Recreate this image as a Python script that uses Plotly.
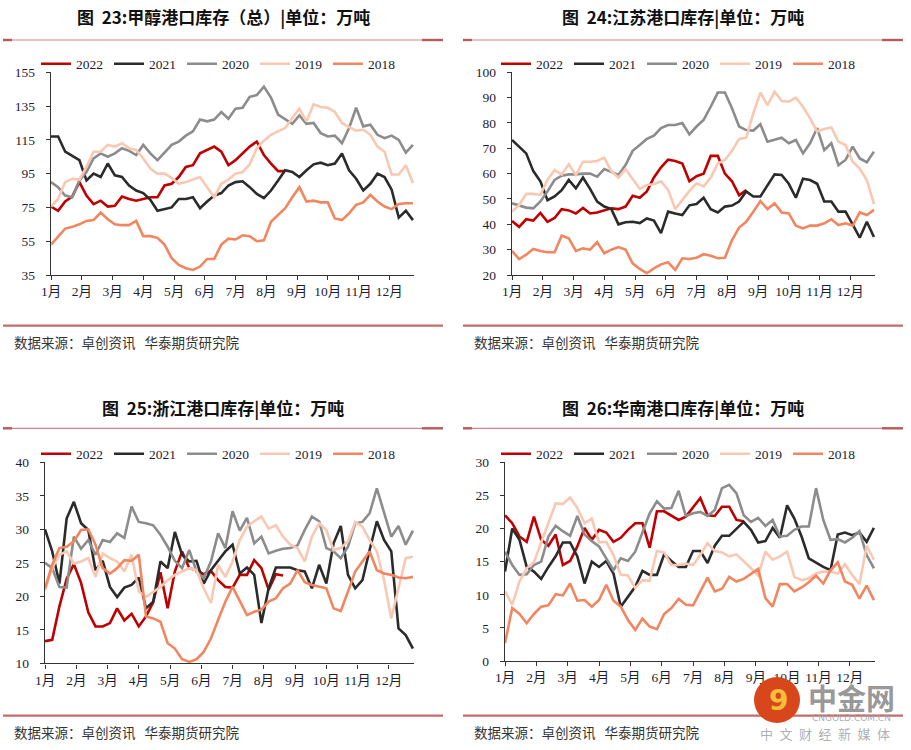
#!/usr/bin/env python3
# -*- coding: utf-8 -*-
"""
甲醇港口库存四宫格（总/江苏/浙江/华南），周度数据，2018-2022 五年对比
"""

import plotly.graph_objects as go

W, H = 911, 750

# ---------------- 数据（周度，单位：万吨） ----------------
YEARS = ['2022', '2021', '2020', '2019', '2018']
MONTHS = [f'{m}月' for m in range(1, 13)]

# 图23 总库存
total_2022 = [75.5, 73, 78.5, 81.5, 90, 82, 77, 79, 75.5, 76, 81.5, 80, 79, 80, 81, 81, 88, 89, 93, 99,
              100, 107, 109, 111, 108, 100, 103, 107, 111, 114, 106, 101, 96.5, 96.5]
total_2021 = [117, 117, 108, 105.5, 103, 91, 95, 93, 101, 94, 93, 88, 85, 83.5, 79.5, 73, 74, 75, 80, 80,
              81, 74.5, 78.5, 82, 83.5, 88, 90, 90.5, 87, 83, 80.5, 85, 91, 97, 96, 93, 97, 100.5, 101.5, 100,
              101, 107, 97, 92, 85, 89, 95, 93, 85.5, 69, 73, 67.5]
total_2020 = [90, 87, 82, 81, 91, 96, 104, 107, 105, 107, 110, 108.5, 106, 112, 107, 103, 107.5, 112, 114, 117.5,
              120, 127, 126, 127, 131.5, 127.5, 133.5, 134, 140.5, 141.5, 146.5, 140, 130, 127, 124.5, 129.5, 124.5,
              125, 119, 117, 117.5, 113, 122, 134, 123, 124, 118, 116, 117.5, 115, 107.5, 112]
total_2019 = [75.5, 80, 90, 92, 91.5, 99, 108, 108, 112, 111, 113, 110, 109, 104, 98, 95, 95, 92.5, 89, 90,
              91.5, 93, 87, 81, 89, 91.5, 95, 96, 100.5, 110, 114.5, 118, 120, 122, 128, 133.5, 126, 136, 134.5,
              134, 131.5, 125, 122.5, 120.5, 121, 118, 111, 108, 94.5, 94.5, 100, 89.5]
total_2018 = [53, 57.5, 62.5, 63.5, 65, 67, 67.5, 72, 68, 65, 64.5, 64.5, 67, 58, 58, 57, 53, 45, 41, 39,
              38, 40, 44.5, 44.5, 53, 56.5, 56, 58.5, 58, 55, 55.5, 66.5, 70.5, 74.5, 81, 87, 78.5, 79, 78, 78,
              68.5, 67.5, 71.5, 76.5, 78, 82.5, 78.5, 75.5, 74, 77, 77.5, 77.5]

# 图24 江苏
js_2022 = [41.3, 39, 42, 41.5, 44.5, 41, 42.5, 46, 45.5, 44.3, 46.5, 44.3, 44.7, 45.5, 46.3, 46, 47, 51.3, 50.5, 53,
           58.5, 62.5, 65.5, 65, 64, 57, 59, 60, 67, 67, 60, 57, 51.5, 53.5]
js_2021 = [73.3, 70.5, 68, 61, 57, 49.5, 51, 53.5, 57.5, 54.2, 58.5, 54, 49, 47, 46, 40, 40.8, 41, 40.5, 42.3,
           41.5, 36.5, 45, 44.3, 43.7, 47.5, 48, 50.5, 46, 44.7, 47, 47.4, 49, 53, 51, 51, 55.5, 59.7, 59.5, 56,
           50.5, 58, 57.5, 56, 49, 49, 45, 45, 40, 34.7, 41, 35]
js_2020 = [48.3, 47.6, 46.6, 46.3, 49, 53, 57.5, 59.2, 59.7, 59.7, 60, 60, 58.8, 61.8, 60.8, 59.5, 63.4, 69, 71.3, 73.7,
           75, 78, 79.2, 79.2, 80, 75.5, 78.6, 81.2, 86.4, 92, 92, 85.8, 78.6, 77.2, 77, 79.5, 72.6, 73.3, 74.2, 72,
           73.3, 68, 72, 78, 69.3, 72, 63.4, 65.4, 70.7, 66, 64.5, 68.7]
js_2019 = [45, 47.6, 52, 52, 51.6, 57.5, 61.4, 59.7, 63.7, 59.5, 64.7, 64.7, 65, 66.3, 61, 58.4, 61.8, 58, 54, 55.5,
           55.8, 57, 53.6, 46, 49.6, 53.2, 56.2, 55, 58.4, 64, 65.4, 69, 73.7, 74.2, 83.8, 92, 87, 92.4, 88.7, 88.4,
           90, 86.4, 81.8, 76.6, 77.6, 78.2, 72.6, 71.3, 64.7, 62, 57.5, 48]
js_2018 = [29.5, 26.3, 28, 30.3, 29.5, 29, 29, 35.5, 34.5, 29.5, 30.5, 30, 33, 28.6, 30, 31, 30, 24.6, 22.4, 20.7,
           22.6, 24.2, 25, 22, 26.6, 26.3, 26.8, 28.2, 27.6, 26.6, 26.8, 33.8, 38.7, 41, 45, 49.2, 46, 48.3, 44.7, 44.3,
           39.5, 38.4, 39.5, 39.5, 40.4, 42, 39.7, 40.4, 39.5, 44.7, 43.7, 45.7]

# 图25 浙江
zj_2022 = [13.3, 13.5, 18.5, 22.6, 24.8, 22, 17.6, 15.5, 15.5, 16, 18.2, 16.4, 17.4, 15.5, 17, 19.1, 23.6, 18.2, 23.7, 26.7,
           24.2, 23.9, 23.3, 23.8, 22.4, 21.4, 21.3, 23.2, 23.2, 25.4, 24.2, 21, 23.3, 23.1]
zj_2021 = [30, 26.7, 21.9, 31.6, 34.1, 30.9, 29.9, 23.9, 25.3, 21.4, 19.9, 21.3, 21.7, 22.8, 18.2, 19.2, 25.2, 24.2, 29.6, 26.2,
           25.2, 25.3, 21.9, 23.9, 25.3, 26.7, 27.7, 23.4, 24.3, 23.2, 16, 21.2, 24.3, 24.3, 24.3, 23.9, 23.7, 21.2, 24.7, 21.9,
           27.9, 30.5, 23.2, 21.2, 22.4, 26.9, 31.2, 28.4, 26.7, 15.2, 14.2, 12.2]
zj_2020 = [25, 24.2, 21.4, 21.3, 28.9, 27.1, 28.4, 26.2, 28.4, 28.1, 29.4, 28.7, 33.4, 31.1, 30.9, 30.6, 29.2, 27.4, 25.3, 24.2,
           26.9, 23.7, 22.7, 25.2, 29.4, 27.2, 32.7, 29.8, 31.7, 27.9, 28.9, 26.4, 26.8, 27.1, 27.2, 27.6, 29.9, 31.9, 31.2, 27.2,
           26.7, 25.7, 27.4, 30.9, 31.1, 32.4, 36.1, 32.6, 28.9, 30.5, 27.7, 29.8]
zj_2019 = [20.9, 24.2, 26.2, 26.7, 24.9, 25.2, 25.7, 22.9, 26.4, 25.7, 25.2, 23.7, 26.2, 20.7, 19.9, 20.7, 21.4, 22.4, 23.2, 23.7,
           24.2, 23.9, 21.2, 19, 24.7, 22.9, 25.2, 28.4, 30.4, 31.2, 31.9, 30.1, 30.6, 28.9, 27.7, 27.2, 25.2, 28.9, 30.9, 29.9,
           26.9, 27.2, 28.2, 31.1, 30.4, 28.4, 26.7, 22.4, 16.7, 21.2, 25.7, 25.9]
zj_2018 = [21.2, 24.7, 27.2, 27.4, 28.2, 29.9, 30, 27.7, 24.2, 23.4, 24.2, 25.4, 25.3, 26.2, 17, 16.7, 16.2, 13, 12.2, 10.6,
           10.2, 10.6, 11.7, 13.7, 16.5, 19.2, 21.4, 19.2, 17.2, 17.7, 18, 19.2, 19.7, 21.2, 21.9, 23.9, 22.1, 21.7, 21.4, 21.2,
           18.2, 17.8, 20.7, 23.7, 25.2, 26.7, 23.9, 23.4, 23.2, 22.8, 22.7, 22.9]

# 图26 华南
hn_2022 = [22, 20.8, 18.8, 18, 21.8, 18.3, 17.4, 19.1, 14.5, 15.1, 17.3, 20.1, 18.3, 19.8, 19.4, 18, 18.6, 19.8, 20.8, 20.8,
           17.1, 22.6, 22.6, 22, 21.3, 21.8, 23.2, 24.6, 22, 21.9, 23.3, 23.3, 21.3, 21.1]
hn_2021 = [13.5, 20, 18.3, 14.2, 13.5, 12.4, 14.2, 15.8, 17.9, 17.9, 15.8, 11.7, 15, 14.2, 15.1, 13.2, 8.2, 9.7, 11.2, 13.6,
           13, 13, 16.1, 15.1, 14.2, 14.2, 16.6, 16.6, 14.8, 17.4, 18.9, 18.9, 19.9, 21, 19.8, 17.9, 18.1, 20.1, 18.6, 23.5,
           21.5, 18.8, 15.5, 14.8, 14.2, 13.7, 19.1, 19.4, 19, 19.4, 18, 20.1]
hn_2020 = [16.5, 14.5, 13, 13.1, 14.5, 15, 18.8, 20.4, 19.6, 18.9, 21.9, 19.1, 18.1, 17.3, 15.5, 13.7, 15.5, 15.1, 16.5, 19.4,
           22.3, 24.1, 23, 23.1, 25.7, 21.9, 22.3, 22.5, 21.9, 22.8, 26.1, 26.6, 25.3, 22, 21, 21.6, 20.4, 21.3, 18.8, 18.9,
           19.8, 20.3, 20.3, 26.1, 21.3, 18.3, 18.4, 17.9, 18.6, 19.6, 16, 14]
hn_2019 = [10.5, 8.5, 12, 14, 14.9, 17.9, 21, 23.8, 23.7, 24.7, 23.1, 20.8, 21.5, 17.9, 18, 16, 13, 12.9, 11, 12.2,
           12.1, 16.6, 16.4, 14.5, 14.5, 14.7, 14.5, 16, 17.8, 16.6, 16.4, 15.8, 16.1, 15.1, 14, 12.9, 16.5, 15.3, 15.8, 16.5,
           12.7, 12.2, 12.5, 13.2, 13.5, 13.5, 13.2, 14.6, 13, 11.6, 17.4, 15.3]
hn_2018 = [2.7, 8, 7.1, 5.7, 7.1, 8.2, 8.4, 10.1, 9.9, 11.7, 9.1, 9.2, 8.2, 9.2, 11.5, 9.1, 8.2, 6.2, 4.7, 6.4,
           5.2, 4.8, 7.1, 8, 9.4, 8.5, 8.4, 10.4, 12.6, 10.5, 10.9, 12.7, 12, 12.4, 13.2, 13.9, 9.5, 8.2, 11.6, 11.6,
           10.5, 11.1, 11.9, 12.9, 11.7, 13.7, 14.9, 12, 11.5, 9.4, 11.4, 9.2]

# 各年份线条颜色
COLORS = {'2022': '#C00000', '2021': '#2B2B2B', '2020': '#8C8C8C', '2019': '#F9C8B2', '2018': '#F28660'}

SERIF = 'Liberation Serif, Noto Sans CJK SC, serif'
CJK = 'Noto Sans CJK SC, sans-serif'
SOURCE = '数据来源：卓创资讯\u00a0\u00a0\u00a0华泰期货研究院'


def px(x):
    """像素 -> paper x"""
    return x / W


def py(y):
    """像素 -> paper y（自上而下）"""
    return 1 - y / H


# 每个子图：标题、数据、y轴范围、绘图区像素框、面板左边界
panels = [
    dict(title='图\u00a0\u00a023:甲醇港口库存（总）|单位：万吨',
         series=[total_2022, total_2021, total_2020, total_2019, total_2018],
         yrange=[35, 155], dtick=20, box=(51, 414, 72.3, 275), left=3, top=0),
    dict(title='图\u00a0\u00a024:江苏港口库存|单位：万吨',
         series=[js_2022, js_2021, js_2020, js_2019, js_2018],
         yrange=[20, 100], dtick=10, box=(512, 875, 72.3, 275), left=463, top=0),
    dict(title='图\u00a0\u00a025:浙江港口库存|单位：万吨',
         series=[zj_2022, zj_2021, zj_2020, zj_2019, zj_2018],
         yrange=[10, 40], dtick=5, box=(45, 414, 462.3, 663.3), left=3, top=390),
    dict(title='图\u00a0\u00a026:华南港口库存|单位：万吨',
         series=[hn_2022, hn_2021, hn_2020, hn_2019, hn_2018],
         yrange=[0, 30], dtick=5, box=(505, 875, 462.3, 661), left=463, top=390),
]

fig = go.Figure()
layout = {}
shapes = []
annotations = []
tickvals = [m * 52 / 12 for m in range(12)]

for i, p in enumerate(panels):
    k = '' if i == 0 else str(i + 1)
    xa, ya, lg = 'x' + k, 'y' + k, 'legend' + k
    x0, x1, y0, y1 = p['box']

    for year, vals in zip(YEARS, p['series']):
        fig.add_trace(go.Scatter(
            x=list(range(len(vals))), y=vals, mode='lines', name=year,
            line=dict(color=COLORS[year], width=2.6),
            xaxis=xa, yaxis=ya, legend=lg, hoverinfo='skip'
        ))

    axis_style = dict(showline=True, linecolor='#333333', linewidth=1.4, ticks='outside',
                      ticklen=4, tickcolor='#333333', showgrid=False, zeroline=False,
                      tickfont=dict(family=SERIF, size=13.5, color='#1c1c2e'), fixedrange=True)
    layout['xaxis' + k] = dict(axis_style, domain=[px(x0), px(x1)], anchor=ya,
                               range=[0, 51.15], tickvals=tickvals, ticktext=MONTHS)
    layout['yaxis' + k] = dict(axis_style, domain=[py(y1), py(y0)], anchor=xa,
                               range=p['yrange'], tick0=p['yrange'][0], dtick=p['dtick'],
                               ticklabelstandoff=8)

    # 图例（每个子图一个，横排）
    layout[lg] = dict(orientation='h', x=px(p['left'] + 33), y=py(p['top'] + 64),
                      xanchor='left', yanchor='middle', bgcolor='rgba(0,0,0,0)',
                      font=dict(family=SERIF, size=13.5, color='#1c1c2e'),
                      entrywidth=28, entrywidthmode='pixels', itemclick=False, itemdoubleclick=False)

    # 标题
    annotations.append(dict(text='<b>' + p['title'] + '</b>', x=px(p['left'] + 220), y=py(p['top'] + 17),
                            xref='paper', yref='paper', showarrow=False, xanchor='center', yanchor='middle',
                            font=dict(family=CJK, size=17, color='#111111')))
    # 数据来源
    annotations.append(dict(text=SOURCE, x=px(p['left'] + 123.5), y=py(p['top'] + 341.5),
                            xref='paper', yref='paper', showarrow=False, xanchor='center', yanchor='middle',
                            font=dict(family=CJK, size=13.5, color='#333333')))

    # 标题下方细线 + 两端粗段，底部粗线
    ly = p['top'] + (40 if p['top'] == 0 else 38.3)
    by = p['top'] + 325.7
    shapes.append(dict(type='line', xref='paper', yref='paper', x0=px(p['left']), x1=px(p['left'] + 440),
                       y0=py(ly), y1=py(ly), line=dict(color='#CF8585', width=1.2)))
    shapes.append(dict(type='line', xref='paper', yref='paper', x0=px(p['left']), x1=px(p['left'] + 9),
                       y0=py(ly), y1=py(ly), line=dict(color='#B85A5A', width=2.4)))
    shapes.append(dict(type='line', xref='paper', yref='paper', x0=px(p['left'] + 419), x1=px(p['left'] + 440),
                       y0=py(ly), y1=py(ly), line=dict(color='#B85A5A', width=2.4)))
    shapes.append(dict(type='line', xref='paper', yref='paper', x0=px(p['left']), x1=px(p['left'] + 440),
                       y0=py(by), y1=py(by), line=dict(color='#C46C6C', width=2.2)))

# 右下角水印（中金网）
shapes.append(dict(type='circle', xref='paper', yref='paper', x0=px(754), x1=px(800), y0=py(723), y1=py(677),
                   fillcolor='#D8461C', line=dict(width=0), layer='above'))
wm = dict(xref='paper', yref='paper', showarrow=False, xanchor='center', yanchor='middle')
annotations += [
    dict(wm, text='<b>9</b>', x=px(778), y=py(700),
         font=dict(family='DejaVu Sans', size=28, color='#F7BE3A')),
    dict(wm, text='<b>中金网</b>', x=px(851), y=py(697),
         font=dict(family=CJK, size=29, color='rgba(125,125,125,0.8)')),
    dict(wm, text='CNGOLD.COM.CN', x=px(851), y=py(718),
         font=dict(family='DejaVu Sans', size=9, color='rgba(160,160,160,0.85)')),
    dict(wm, text='\u2002'.join('中文财经新媒体'), x=px(825), y=py(733.5),
         font=dict(family=CJK, size=13, color='rgba(165,165,165,0.9)')),
]

fig.update_layout(
    width=W, height=H, autosize=False,
    margin=dict(l=0, r=0, t=0, b=0, autoexpand=False),
    paper_bgcolor='white', plot_bgcolor='white',
    showlegend=True, shapes=shapes, annotations=annotations,
    **layout
)

# 图表固定在窗口左上角，去掉页面边距
pin_js = """
document.documentElement.style.margin='0';
document.body.style.margin='0';
document.body.style.overflow='hidden';
var g = document.getElementById('{plot_id}');
g.style.position='fixed'; g.style.left='0px'; g.style.top='0px';
"""
fig.write_html('out.html', config={'displayModeBar': False}, post_script=pin_js)
